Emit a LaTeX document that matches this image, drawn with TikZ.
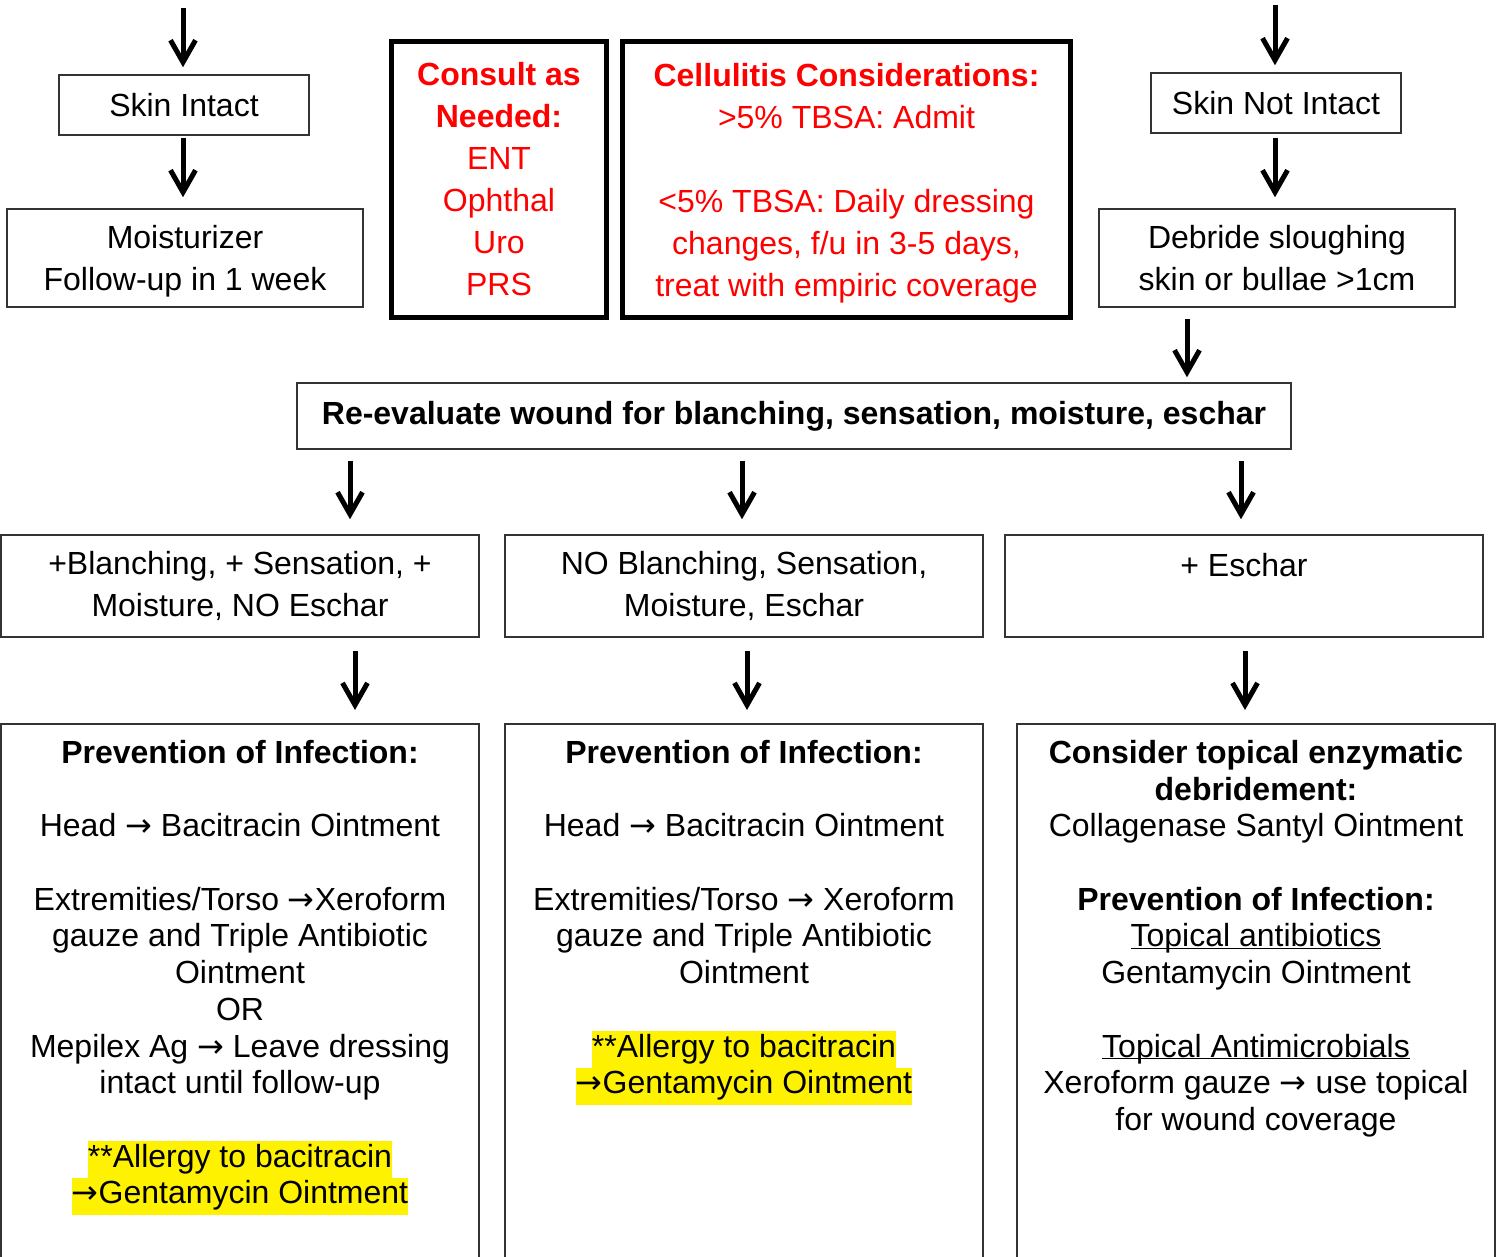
\documentclass[tikz,border=0pt]{standalone}
\usepackage{fontspec}
\setmainfont{Liberation Sans}
\newfontfamily\symfont{DejaVu Sans}
\usetikzlibrary{arrows.meta}
\newcommand{\hl}[1]{{\setlength{\fboxsep}{0pt}\colorbox{yellow}{\strut #1}}}
\newcommand{\ul}[1]{\underline{\smash{#1}}}
\newcommand{\nodp}[1]{\raisebox{0pt}[\height][0pt]{#1}}
\newcommand{\ra}{{\symfont →}}
\begin{document}
\begin{tikzpicture}[x=1pt,y=-1pt,
  box/.style={draw=black!80, line width=1.5pt, align=center, inner sep=0pt, font=\fontsize{32}{42}\selectfont},
  redbox/.style={draw=black, line width=5pt, align=center, inner sep=0pt, text=red, font=\fontsize{32}{42}\selectfont},
  arr/.style={line width=5pt, -{Straight Barb[length=22pt,width=25pt]}},
  ltext/.style={align=center, inner sep=0pt, anchor=north, font=\fontsize{32}{36.7}\selectfont}]
\useasboundingbox (0,0) rectangle (1498,1257);
\clip (0,0) rectangle (1498,1257);
% left branch
\node[box, minimum width=250pt, minimum height=60pt] (intact) at (184,105) {Skin Intact};
\node[box, minimum width=356pt, minimum height=98pt] (moist) at (185,258) {Moisturizer\\\nodp{Follow-up in 1 week}};
% red notes
\node[redbox, minimum width=215pt, minimum height=276pt] (consult) at (499,179.5)
  {\textbf{Consult as}\\\textbf{Needed:}\\ENT\\Ophthal\\Uro\\PRS};
\node[redbox, minimum width=448pt, minimum height=276pt] (cellu) at (846.5,179.5)
  {\textbf{Cellulitis Considerations:}\\>5\% TBSA: Admit\\\mbox{}\\<5\% TBSA: Daily dressing\\changes, f/u in 3-5 days,\\\nodp{treat with empiric coverage}};
% right branch
\node[box, minimum width=250pt, minimum height=60pt] (notintact) at (1276,103) {Skin Not Intact};
\node[box, minimum width=356pt, minimum height=98pt] (debride) at (1277,258) {Debride sloughing\\skin or bullae >1cm};
\node[box, minimum width=994pt, minimum height=66pt] (reeval) at (794,416)
  {\textbf{Re-evaluate wound for blanching, sensation, moisture, eschar}};
% findings
\node[box, minimum width=478pt, minimum height=102pt] (row1) at (240,586) {+Blanching, + Sensation, +\\Moisture, NO Eschar};
\node[box, minimum width=478pt, minimum height=102pt] (row2) at (744,586) {NO Blanching, Sensation,\\Moisture, Eschar};
\node[box, minimum width=478pt, minimum height=102pt] (row3) at (1244,586) {+ Eschar\\\mbox{}};
% treatment boxes (run off the bottom)
\node[box, minimum width=478pt, minimum height=600pt, anchor=north] (prev1) at (240,723) {};
\node[box, minimum width=478pt, minimum height=600pt, anchor=north] (prev2) at (744,723) {};
\node[box, minimum width=478pt, minimum height=600pt, anchor=north] (prev3) at (1256,723) {};
\node[ltext] (txt1) at ([yshift=-17pt]prev1.north)
  {\textbf{Prevention of Infection:}\\\mbox{}\\Head \ra{} Bacitracin Ointment\\\mbox{}\\Extremities/Torso \ra{}Xeroform\\gauze and Triple Antibiotic\\Ointment\\OR\\Mepilex Ag \ra{} Leave dressing\\intact until follow-up\\\mbox{}\\\hl{**Allergy to bacitracin}\\\hl{\ra{}Gentamycin Ointment}};
\node[ltext] (txt2) at ([yshift=-17pt]prev2.north)
  {\textbf{Prevention of Infection:}\\\mbox{}\\Head \ra{} Bacitracin Ointment\\\mbox{}\\Extremities/Torso \ra{} Xeroform\\gauze and Triple Antibiotic\\Ointment\\\mbox{}\\\hl{**Allergy to bacitracin}\\\hl{\ra{}Gentamycin Ointment}};
\node[ltext] (txt3) at ([yshift=-17pt]prev3.north)
  {\textbf{Consider topical enzymatic}\\\textbf{debridement:}\\Collagenase Santyl Ointment\\\mbox{}\\\textbf{Prevention of Infection:}\\\ul{Topical antibiotics}\\Gentamycin Ointment\\\mbox{}\\\ul{Topical Antimicrobials}\\Xeroform gauze \ra{} use topical\\for wound coverage};
% arrows
\coordinate (inL) at (183,8);
\coordinate (inR) at (1275,5);
\draw[arr, shorten >=7pt] (inL) -- (inL |- intact.north);
\draw[arr, shorten <=2pt, shorten >=11pt] (183,0 |- intact.south) -- (183,0 |- moist.north);
\draw[arr, shorten >=7pt] (inR) -- (inR |- notintact.north);
\draw[arr, shorten <=4pt, shorten >=11pt] (1275,0 |- notintact.south) -- (1275,0 |- debride.north);
\draw[arr, shorten <=11pt, shorten >=5pt] (1187,0 |- debride.south) -- (1187,0 |- reeval.north);
\foreach \ax/\n in {350/1, 742/2, 1241/3}
  \draw[arr, shorten <=11pt, shorten >=15pt] (\ax,0 |- reeval.south) -- (\ax,0 |- row\n.north);
\foreach \ax/\n in {355/1, 747/2, 1245/3}
  \draw[arr, shorten <=13pt, shorten >=13pt] (\ax,0 |- row\n.south) -- (\ax,0 |- prev\n.north);
\end{tikzpicture}
\end{document}
